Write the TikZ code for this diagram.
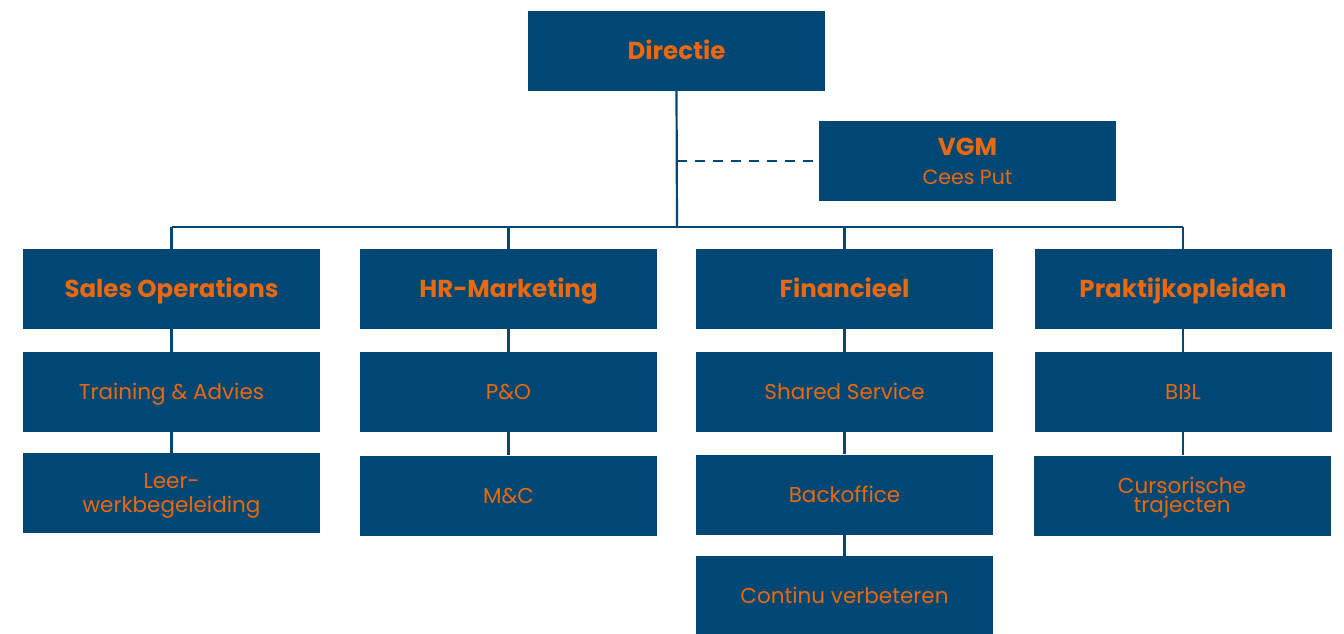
\documentclass[tikz,border=0pt]{standalone}
\usepackage{fontspec}
\setmainfont{Poppins}
\usetikzlibrary{positioning}
\definecolor{orgblue}{RGB}{0,72,115}
\definecolor{orgorange}{RGB}{233,104,16}
\begin{document}
\begin{tikzpicture}[x=1pt,y=-1pt]
		\tikzset{unit/.style={fill=orgblue, text=orgorange, minimum width=297pt, minimum height=80pt, inner sep=0pt, align=center, text height=15pt, text depth=0pt, font=\fontsize{21.5}{24}\selectfont},
			twoline/.style={unit, text height=39pt},
			head/.style={unit, text height=17pt, font=\fontsize{24.5}{26}\selectfont\bfseries},
			link/.style={draw=orgblue, line width=2.2pt},
			advice/.style={link, dash pattern=on 10pt off 8pt}}
		\useasboundingbox (0,0) rectangle (1344,634);
		% top
		\node [head] (dir) at (676.5,51) {Directie};
		\node [twoline, text height=47pt, font=\fontsize{20.5}{29}\selectfont] (vgm) at (967.5,161) {{\fontsize{24.5}{29}\selectfont\bfseries VGM}\\Cees Put};
		% departments
		\node [head] (sales) at (171.5,289) {Sales Operations};
		\node [head] (hr) at (508.5,289) {HR-Marketing};
		\node [head] (fin) at (844.5,289) {Financieel};
		\node [head] (prak) at (1183,289) {Praktijkopleiden};
		% teams
		\node [unit] (train) at (171.5,392) {Training \& Advies};
		\node [twoline] (leer) at (171.5,493) {Leer-\\werkbegeleiding};
		\node [unit] (po) at (508.5,392) {P\&O};
		\node [unit] (mc) at (508.5,495.5) {M\&C};
		\node [unit] (shared) at (844.5,392) {Shared Service};
		\node [unit] (back) at (844.5,494.5) {Backoffice};
		\node [unit] (cont) at (844.5,596) {Continu verbeteren};
		\node [unit] (bbl) at (1183,391.5) {BBL};
		\node [twoline, text height=34pt, font=\fontsize{21.5}{19}\selectfont] (curs) at (1182,495.5) {Cursorische\\trajecten};
		% lines
		\coordinate (bus) at (677,227);
		\draw [link] (dir.south) -- (bus);
		\draw [advice] (dir.south |- vgm.west) -- (vgm.west);
		\draw [link] (bus -| sales.north) -- (bus -| prak.north);
		\foreach \d in {sales,hr,fin,prak}
			\draw [link] (bus -| \d.north) -- (\d.north);
		\draw [link] (sales) -- (train) -- (leer);
		\draw [link] (hr) -- (po) -- (mc);
		\draw [link] (fin) -- (shared) -- (back) -- (cont);
		\draw [link] (prak.south) -- (prak.south |- curs.north);
	\end{tikzpicture}
\end{document}
